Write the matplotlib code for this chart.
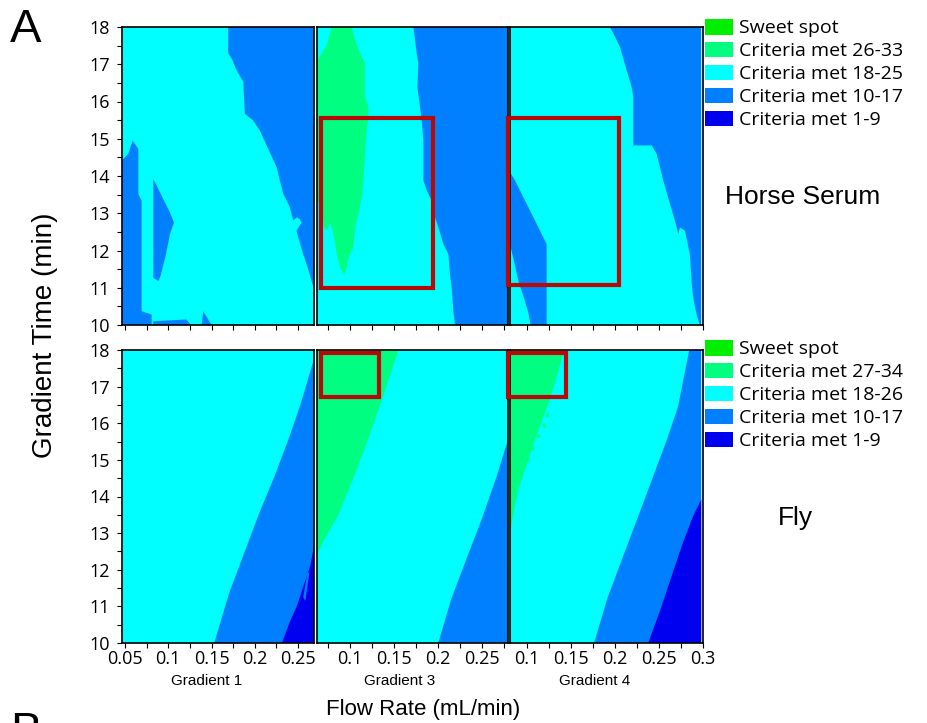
import matplotlib.pyplot as plt
from matplotlib.patches import Patch, Rectangle
from matplotlib.ticker import MultipleLocator

plt.rcParams['font.family'] = ['Open Sans', 'DejaVu Sans']

# ---- data ----
gradients = ['Gradient 1', 'Gradient 3', 'Gradient 4']
flow_lims = [(0.0465, 0.2685), (0.063, 0.279), (0.081, 0.298)]
flow_ticks = [[0.05, 0.1, 0.15, 0.2, 0.25],
              [0.1, 0.15, 0.2, 0.25],
              [0.1, 0.15, 0.2, 0.25, 0.3]]
time_lims = (10, 18)
time_ticks = [10, 11, 12, 13, 14, 15, 16, 17, 18]

horse_labels = ['Sweet spot', 'Criteria met 26-33', 'Criteria met 18-25',
                'Criteria met 10-17', 'Criteria met 1-9']
fly_labels = ['Sweet spot', 'Criteria met 27-34', 'Criteria met 18-26',
              'Criteria met 10-17', 'Criteria met 1-9']
# level index: 0 sweet, 1 high, 2 mid-high (background), 3 mid, 4 low

# Horse serum, gradient 1 (background = level 2)
horse_g1_right = [(.1693, 18), (.1693, 17.29), (.1732, 17.16), (.1790, 16.84),
                  (.1867, 16.53), (.1886, 15.67), (.1982, 15.49), (.2059, 15.22),
                  (.2155, 14.73), (.2252, 14.24), (.2329, 13.52), (.2406, 13.16),
                  (.2444, 12.80), (.2483, 12.89), (.2521, 12.84), (.2540, 12.75),
                  (.2483, 12.53), (.2502, 12.35), (.2560, 11.90), (.2618, 11.50),
                  (.2668, 11.09), (.2685, 11.0), (.2685, 18)]
horse_g1_left = [(.0465, 14.42), (.0538, 14.60), (.0588, 14.95), (.0654, 14.73),
                 (.0654, 13.52), (.0692, 13.34), (.0692, 10.37), (.0808, 10.28),
                 (.0808, 10.0), (.0465, 10.0)]
horse_g1_mid = [(.0827, 13.92), (.0866, 13.74), (.1020, 13.02), (.1066, 12.75),
                (.1020, 12.44), (.0973, 11.90), (.0912, 11.32), (.0885, 11.18),
                (.0827, 11.27)]
horse_g1_base = [(.0827, 10.10), (.1212, 10.15), (.1258, 10.0), (.0827, 10.0)]
horse_g1_foot = [(.1405, 10.37), (.1501, 10.0), (.1385, 10.0)]

# Horse serum, gradient 3
horse_g3_high = [(.0796, 18), (.1022, 18), (.1060, 17.65), (.1117, 17.29),
                 (.1173, 17.02), (.1173, 16.12), (.1211, 15.85), (.1211, 15.58),
                 (.1192, 15.22), (.1173, 14.60), (.1154, 13.88), (.1135, 13.43),
                 (.1098, 12.98), (.1060, 12.62), (.1041, 12.08), (.0985, 11.81),
                 (.0947, 11.32), (.0890, 11.54), (.0853, 11.90), (.0815, 12.44),
                 (.0777, 12.75), (.0740, 12.53), (.0709, 12.62), (.0683, 13.16),
                 (.0630, 13.34), (.0630, 17.11), (.0683, 17.29), (.0740, 17.52)]
horse_g3_right = [(.1720, 18), (.1739, 17.65), (.1757, 17.29), (.1776, 17.02),
                  (.1765, 16.39), (.1795, 15.85), (.1814, 15.49), (.1833, 14.95),
                  (.1833, 13.88), (.1871, 13.61), (.1927, 13.34), (.1965, 12.89),
                  (.2003, 12.62), (.2059, 12.17), (.2116, 11.90), (.2134, 11.36),
                  (.2153, 11.0), (.2172, 10.37), (.2191, 10.0), (.279, 10), (.279, 18)]

# Horse serum, gradient 4
horse_g4_right = [(.1944, 18), (.2001, 17.74), (.2057, 17.47), (.2133, 16.84),
                  (.2190, 16.39), (.2209, 16.12), (.2209, 14.82), (.2417, 14.82),
                  (.2473, 14.60), (.2511, 14.24), (.2549, 13.88), (.2625, 13.25),
                  (.2681, 12.80), (.2719, 12.44), (.2738, 12.62), (.2795, 12.53),
                  (.2851, 11.90), (.2870, 11.18), (.2889, 10.73), (.2927, 10.28),
                  (.2965, 10.0), (.298, 10), (.298, 18)]
horse_g4_left = [(.0810, 14.10), (.0867, 13.88), (.0961, 13.43), (.1075, 12.89),
                 (.1226, 12.17), (.1226, 10.0), (.1044, 10.0), (.1018, 10.33),
                 (.0961, 10.78), (.0905, 11.18), (.0855, 11.72), (.0810, 12.17)]

# Fly
fly_g1_mid = [(.1531, 10), (.1706, 11.38), (.1880, 12.47), (.2054, 13.56),
              (.2228, 14.55), (.2402, 15.64), (.2533, 16.55), (.2642, 17.41),
              (.2685, 17.75), (.2685, 10)]
fly_g1_low = [(.2315, 10), (.2402, 10.56), (.2489, 11.02), (.2576, 11.65),
              (.2642, 12.10), (.2685, 12.65), (.2685, 10)]
fly_g1_islet = [(.2560, 11.25), (.2610, 11.95), (.2630, 11.90), (.2585, 11.15)]
fly_g3_high = [(.063, 18), (.1550, 18), (.1378, 16.73), (.1207, 15.55),
               (.1036, 14.46), (.0865, 13.47), (.0694, 12.74), (.063, 12.40)]
fly_g3_mid = [(.2001, 10), (.2148, 11.2), (.2319, 12.29), (.2491, 13.37),
              (.2662, 14.55), (.279, 15.55), (.279, 10)]
fly_g4_high = [(.081, 18), (.1425, 18), (.1319, 17.09), (.1234, 16.46),
               (.1107, 15.64), (.0980, 14.73), (.0895, 14.10), (.0831, 13.29),
               (.081, 13.0)]
fly_g4_mid = [(.1764, 10), (.1912, 11.2), (.2081, 12.29), (.2251, 13.37),
              (.2420, 14.46), (.2590, 15.55), (.2717, 16.46), (.2844, 18),
              (.298, 18), (.298, 10)]
fly_g4_low = [(.2378, 10), (.2505, 10.83), (.2632, 11.74), (.2759, 12.65),
              (.2887, 13.46), (.298, 13.92), (.298, 10)]
fly_g4_spots_x = [.1234, .1191, .1128, .1064, .1001, .0937]
fly_g4_spots_y = [16.23, 15.96, 15.64, 15.32, 15.0, 14.69]

horse_regions = [
    [(3, horse_g1_right), (3, horse_g1_left), (3, horse_g1_mid),
     (3, horse_g1_base), (3, horse_g1_foot)],
    [(1, horse_g3_high), (3, horse_g3_right)],
    [(3, horse_g4_right), (3, horse_g4_left)],
]
fly_regions = [
    [(3, fly_g1_mid), (4, fly_g1_low), (3, fly_g1_islet)],
    [(1, fly_g3_high), (3, fly_g3_mid)],
    [(1, fly_g4_high), (3, fly_g4_mid), (4, fly_g4_low)],
]
# sweet-spot boxes (flow0, flow1, time0, time1), None = no box
horse_boxes = [None, (0.068, 0.194, 11.0, 15.55), (0.079, 0.205, 11.08, 15.57)]
fly_boxes = [None, (0.0673, 0.1327, 16.71, 17.91), (0.079, 0.144, 16.73, 17.91)]

# ---- styling ----
level_colors = ['#00EE00', '#00FF80', '#00FFFF', '#0080FF', '#0000F0']
box_color = '#B80808'

W, H = 927, 723
fig = plt.figure(figsize=(W / 100, H / 100), dpi=100)

col_px = [(122, 314), (317, 508), (510, 703)]
row_px = [(27, 325), (350, 643)]


def make_ax(col, row):
    x0, x1 = col_px[col]
    y0, y1 = row_px[row]
    return fig.add_axes([x0 / W, 1 - y1 / H, (x1 - x0) / W, (y1 - y0) / H])


for row, (regions, boxes) in enumerate([(horse_regions, horse_boxes),
                                         (fly_regions, fly_boxes)]):
    for col in range(3):
        ax = make_ax(col, row)
        lo, hi = flow_lims[col]
        ax.fill([lo, hi, hi, lo], [10, 10, 18, 18], color=level_colors[2], lw=0)
        for lev, poly in regions[col]:
            xs, ys = zip(*poly)
            ax.fill(xs, ys, color=level_colors[lev], lw=0)
        if row == 1 and col == 2:
            ax.scatter(fly_g4_spots_x, fly_g4_spots_y, s=8, marker='o',
                       color=level_colors[1], lw=0, zorder=3)
        if boxes[col] is not None:
            bx0, bx1, by0, by1 = boxes[col]
            ax.add_patch(Rectangle((bx0, by0), bx1 - bx0, by1 - by0, fill=False,
                                   ec=box_color, lw=3, clip_on=False, zorder=5))
        ax.set_xlim(lo, hi)
        ax.set_ylim(*time_lims)
        ax.set_xticks(flow_ticks[col])
        ax.xaxis.set_minor_locator(MultipleLocator(0.025))
        ax.tick_params(axis='both', which='both', direction='out', length=3.5,
                       width=0.8, labelsize=13, pad=1.5)
        if row == 0:
            ax.set_xticklabels([])
        else:
            ax.set_xticklabels([f'{t:g}' for t in flow_ticks[col]])
        if col == 0:
            ax.set_yticks(time_ticks)
            ax.yaxis.set_minor_locator(MultipleLocator(0.5))
            ax.tick_params(axis='y', pad=5)
        else:
            ax.set_yticks([])
        for s in ax.spines.values():
            s.set_linewidth(1.2)
            s.set_color('black')

# legends
for labels, ytop in [(horse_labels, 19), (fly_labels, 340)]:
    handles = [Patch(facecolor=c, edgecolor='none') for c in level_colors]
    fig.legend(handles, labels, loc='upper left',
               bbox_to_anchor=(705 / W, 1 - ytop / H), frameon=False,
               fontsize=14, handlelength=1.45, handleheight=0.85,
               handletextpad=0.3, labelspacing=0.23, borderpad=0,
               borderaxespad=0)

sans = ['Liberation Sans', 'DejaVu Sans']
fig.text(725 / W, 1 - 197 / H, 'Horse Serum', fontsize=19, family=sans,
         ha='left', va='center')
fig.text(795 / W, 1 - 518 / H, 'Fly', fontsize=19, family=sans,
         ha='center', va='center')
fig.text(45 / W, 1 - 335 / H, 'Gradient Time (min)', fontsize=20, family=sans,
         rotation=90, ha='center', va='center')
fig.text(423 / W, 1 - 709 / H, 'Flow Rate (mL/min)', fontsize=16, family=sans,
         ha='center', va='center')
for name, cx in zip(gradients, [207, 400, 595]):
    fig.text(cx / W, 1 - 681 / H, name, fontsize=11, family=sans,
             ha='center', va='center')
fig.text(10 / W, 1 - 8 / H, 'A', fontsize=34, family=sans, ha='left', va='top')
fig.text(10 / W, 1 - 711 / H, 'B', fontsize=34, family=sans, ha='left', va='top')

fig.savefig('out.png', dpi=100)
